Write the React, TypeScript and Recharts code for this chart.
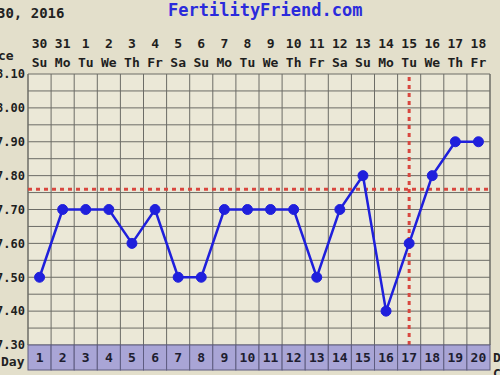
import React from "react";
import {
  LineChart,
  Line,
  XAxis,
  YAxis,
  CartesianGrid,
  ReferenceLine,
} from "recharts";

const days = [1, 2, 3, 4, 5, 6, 7, 8, 9, 10, 11, 12, 13, 14, 15, 16, 17, 18, 19, 20];
const dates = ["30", "31", "1", "2", "3", "4", "5", "6", "7", "8", "9", "10", "11", "12", "13", "14", "15", "16", "17", "18"];
const weekdays = ["Su", "Mo", "Tu", "We", "Th", "Fr", "Sa", "Su", "Mo", "Tu", "We", "Th", "Fr", "Sa", "Su", "Mo", "Tu", "We", "Th", "Fr"];
const temps = [97.5, 97.7, 97.7, 97.7, 97.6, 97.7, 97.5, 97.5, 97.7, 97.7, 97.7, 97.7, 97.5, 97.7, 97.8, 97.4, 97.6, 97.8, 97.9, 97.9];
const coverline = 97.76;
const ovulationDay = 17;
const gridTempTicks = [97.3, 97.35, 97.4, 97.45, 97.5, 97.55, 97.6, 97.65, 97.7, 97.75, 97.8, 97.85, 97.9, 97.95, 98.0, 98.05, 98.1];
const labelTempTicks = [97.3, 97.4, 97.5, 97.6, 97.7, 97.8, 97.9, 98.0, 98.1];
const celsiusLabels = ["36.28", "36.33", "36.39", "36.44", "36.50", "36.56", "36.61", "36.67", "36.72"];
const columnBounds = [0.5, 1.5, 2.5, 3.5, 4.5, 5.5, 6.5, 7.5, 8.5, 9.5, 10.5, 11.5, 12.5, 13.5, 14.5, 15.5, 16.5, 17.5, 18.5, 19.5, 20.5];

const data = days.map((d, i) => ({ day: d, temp: temps[i] }));

const MONO = "'DejaVu Sans Mono', 'Liberation Mono', monospace";
const PLOT_LEFT = 28;
const PLOT_RIGHT = 490;
const COL_W = (PLOT_RIGHT - PLOT_LEFT) / days.length;
const ROW_TOP = 345;
const ROW_H = 25;
const GRID = "#6c6c66";
const RED = "#d8473f";
const BLUE = "#1f1fdc";

const TopTick = (props: any) => {
  const { x, payload } = props;
  const i = days.indexOf(payload.value);
  if (i < 0) return null;
  return (
    <g>
      <text x={x} y={48} textAnchor="middle" fontFamily={MONO} fontWeight="bold" fontSize={13} fill="#1e1e1e">
        {dates[i]}
      </text>
      <text x={x} y={67} textAnchor="middle" fontFamily={MONO} fontWeight="bold" fontSize={13} fill="#1e1e1e">
        {weekdays[i]}
      </text>
    </g>
  );
};

const DayTick = (props: any) => {
  const { x, payload } = props;
  return (
    <g>
      <rect x={x - COL_W / 2} y={ROW_TOP} width={COL_W} height={ROW_H} fill="#a9a5d6" stroke="#5e5c80" strokeWidth={1} />
      <text x={x} y={ROW_TOP + 17} textAnchor="middle" fontFamily={MONO} fontWeight="bold" fontSize={13} fill="#1e1e30">
        {payload.value}
      </text>
    </g>
  );
};

const fmtLeft = (v: number) => {
  const idx = labelTempTicks.findIndex((t) => Math.abs(t - v) < 0.001);
  return idx >= 0 ? v.toFixed(2) : "";
};

const fmtRight = (v: number) => {
  const idx = labelTempTicks.findIndex((t) => Math.abs(t - v) < 0.001);
  return idx >= 0 ? celsiusLabels[idx] : "";
};

export default function App() {
  return (
    <div
      style={{
        position: "fixed",
        left: 0,
        top: 0,
        width: 500,
        height: 375,
        background: "#e3dfcb",
        overflow: "hidden",
        fontFamily: MONO,
      }}
    >
      <div style={{ position: "absolute", left: -3, top: 4, fontSize: 14, fontWeight: "bold", color: "#222", fontFamily: MONO, lineHeight: "18px", whiteSpace: "nowrap" }}>
        30, 2016
      </div>
      <div style={{ position: "absolute", left: 168, top: 0, fontSize: 17, fontWeight: "bold", color: "#2b2bdc", fontFamily: MONO, lineHeight: "20px", whiteSpace: "nowrap" }}>
        FertilityFriend.com
      </div>
      <div style={{ position: "absolute", left: -2, top: 48, fontSize: 13, fontWeight: "bold", color: "#222", fontFamily: MONO, lineHeight: "16px" }}>
        ce
      </div>
      <div style={{ position: "absolute", left: 1, top: 354, fontSize: 13, fontWeight: "bold", color: "#222", fontFamily: MONO, lineHeight: "16px" }}>
        Day
      </div>
      <div style={{ position: "absolute", left: 493, top: 350, fontSize: 13, fontWeight: "bold", color: "#222", fontFamily: MONO, lineHeight: "16px" }}>
        D
      </div>
      <div style={{ position: "absolute", left: 493, top: 366, fontSize: 13, fontWeight: "bold", color: "#222", fontFamily: MONO, lineHeight: "16px" }}>
        C
      </div>
      <div style={{ position: "absolute", left: 0, top: 0 }}>
        <LineChart width={500} height={375} data={data} margin={{ top: 0, right: 0, bottom: 0, left: 0 }}>
          <CartesianGrid stroke={GRID} strokeWidth={1} fill="#ebe8d7" vertical={false} horizontal />
          <XAxis
            dataKey="day"
            type="number"
            domain={[0.5, 20.5]}
            ticks={columnBounds}
            tick={false}
            axisLine={false}
            tickLine={false}
            height={0}
          />
          <XAxis
            xAxisId="day"
            dataKey="day"
            type="number"
            domain={[0.5, 20.5]}
            ticks={days}
            tick={<DayTick />}
            axisLine={false}
            tickLine={false}
            tickSize={0}
            height={30}
            interval={0}
          />
          <XAxis
            xAxisId="top"
            orientation="top"
            dataKey="day"
            type="number"
            domain={[0.5, 20.5]}
            ticks={days}
            tick={<TopTick />}
            axisLine={false}
            tickLine={false}
            height={74}
            interval={0}
          />
          <YAxis
            type="number"
            domain={[97.3, 98.1]}
            ticks={gridTempTicks}
            interval={0}
            tickFormatter={fmtLeft}
            width={PLOT_LEFT}
            axisLine={false}
            tickLine={false}
            tickSize={0}
            tickMargin={3}
            tick={{ fontFamily: MONO, fontWeight: "bold", fontSize: 12, fill: "#1e1e1e" }}
          />
          <YAxis
            yAxisId="r"
            orientation="right"
            type="number"
            domain={[97.3, 98.1]}
            ticks={gridTempTicks}
            interval={0}
            tickFormatter={fmtRight}
            width={500 - PLOT_RIGHT}
            axisLine={false}
            tickLine={false}
            tickSize={0}
            tickMargin={3}
            tick={{ fontFamily: MONO, fontWeight: "bold", fontSize: 12, fill: "#1e1e1e", textAnchor: "start" }}
          />
          {columnBounds.map((b) => (
            <ReferenceLine key={"v" + b} x={b} stroke={GRID} strokeWidth={b === 0.5 || b === 20.5 ? 1.5 : 1} />
          ))}
          <ReferenceLine y={coverline} stroke={RED} strokeWidth={3} strokeDasharray="4 4" />
          <ReferenceLine x={ovulationDay} stroke={RED} strokeWidth={3} strokeDasharray="4 4" />
          <Line
            type="linear"
            dataKey="temp"
            stroke={BLUE}
            strokeWidth={2.5}
            dot={{ r: 5, fill: BLUE, stroke: BLUE, strokeWidth: 1 }}
            isAnimationActive={false}
          />
        </LineChart>
      </div>
    </div>
  );
}
